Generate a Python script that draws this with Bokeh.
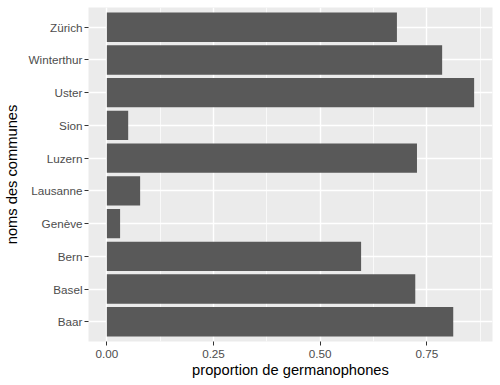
from bokeh.plotting import figure
from bokeh.models import Range1d, FixedTicker, ColumnDataSource
from bokeh.embed import file_html
from bokeh.resources import INLINE

communes = ["Baar", "Basel", "Bern", "Genève", "Lausanne", "Luzern", "Sion", "Uster", "Winterthur", "Zürich"]
proportion = [0.812, 0.723, 0.596, 0.031, 0.078, 0.727, 0.050, 0.861, 0.786, 0.680]
x_ticks = [0.0, 0.25, 0.5, 0.75]
x_tick_labels = ["0.00", "0.25", "0.50", "0.75"]
x_minor = [0.125, 0.375, 0.625, 0.875]

ypos = list(range(1, len(communes) + 1))
src = ColumnDataSource(dict(y=ypos, v=proportion, name=communes))

xmax = max(proportion)
p = figure(
    width=500, height=385,
    min_border_left=88, min_border_right=8, min_border_top=7, min_border_bottom=44,
    x_range=Range1d(-0.05 * xmax, xmax * 1.05),
    y_range=Range1d(0.4, len(communes) + 0.6),
    output_backend="svg", toolbar_location=None,
)
p.hbar(y="y", right="v", left=0, height=0.9, source=src,
       fill_color="#595959", line_color=None)

p.background_fill_color = "#EBEBEB"
p.border_fill_color = "white"
p.outline_line_color = None

p.xaxis.ticker = FixedTicker(ticks=x_ticks, minor_ticks=x_minor)
p.xaxis.major_label_overrides = {t: l for t, l in zip(x_ticks, x_tick_labels)}
p.yaxis.ticker = FixedTicker(ticks=ypos, minor_ticks=[])
p.yaxis.major_label_overrides = {y: c for y, c in zip(ypos, communes)}

for ax in (p.xaxis, p.yaxis):
    ax.axis_line_color = None
    ax.major_tick_line_color = "#333333"
    ax.major_tick_line_width = 1
    ax.major_tick_out = 4
    ax.major_tick_in = 0
    ax.minor_tick_out = 0
    ax.minor_tick_in = 0
    ax.major_label_text_color = "#4D4D4D"
    ax.major_label_text_font = "Liberation Sans"
    ax.major_label_text_font_size = "11.7px"
    ax.axis_label_text_font = "Liberation Sans"
    ax.axis_label_text_font_size = "14.7px"
    ax.axis_label_text_font_style = "normal"
    ax.axis_label_text_color = "black"

p.xaxis.axis_label = "proportion de germanophones"
p.yaxis.axis_label = "noms des communes"
p.xaxis.major_label_standoff = 4
p.xaxis.axis_label_standoff = 1
p.yaxis.major_label_standoff = 2
p.yaxis.axis_label_standoff = 6

p.xgrid.grid_line_color = "white"
p.xgrid.grid_line_width = 1.4
p.xgrid.minor_grid_line_color = "white"
p.xgrid.minor_grid_line_width = 0.7
p.ygrid.grid_line_color = "white"
p.ygrid.grid_line_width = 1.4

open("out.html", "w").write(file_html(p, INLINE))
